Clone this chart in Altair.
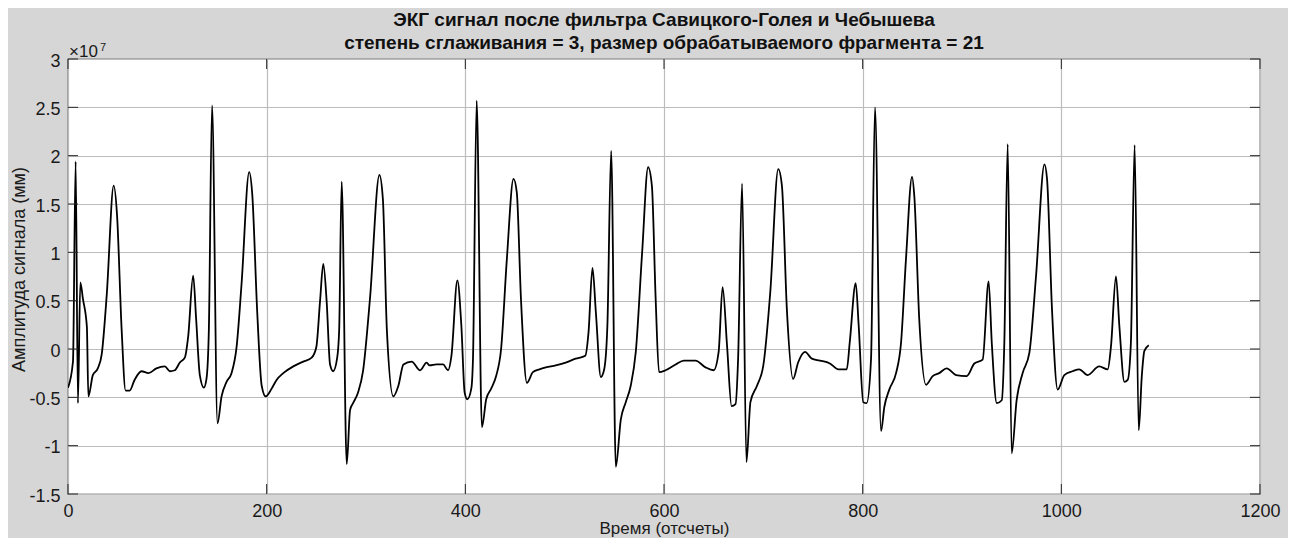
import altair as alt
import pandas as pd

# Sample index (отсчеты) and amplitude (in units of 1e7)
t_part1 = [0, 5, 7.7, 10, 12.4, 15, 19, 20.5, 25, 30,
           34, 39, 46, 49.4, 54, 58, 62, 67, 74, 81,
           89, 97.5, 102.5, 107.5, 112.6, 117.6, 121, 126, 129, 132.7,
           136.8, 139.4, 141.8, 145, 150.5, 154.6, 159.6, 164.6, 169.7, 174.7,
           182.4, 185.5, 190.5, 195, 199, 205, 210, 216.7, 226.8, 236.9,
           245.3, 250, 253.7, 257, 260.4, 263.8, 267, 271, 273, 275.5,
           280.6, 284, 287, 292, 297, 304, 313.5, 317, 321, 327.5,
           332.6, 337.7, 346, 354.5, 361]
amp_part1 = [-0.4, -0.13, 1.94, -0.56, 0.69, 0.52, 0.23, -0.49, -0.27, -0.2,
             -0.05, 0.56, 1.69, 1.38, 0.2, -0.43, -0.43, -0.32, -0.23, -0.25,
             -0.2, -0.18, -0.23, -0.22, -0.14, -0.09, 0.13, 0.76, 0.31, -0.27,
             -0.4, -0.31, 0.2, 2.52, -0.77, -0.49, -0.34, -0.25, 0.02, 0.67,
             1.83, 1.6, 0.38, -0.38, -0.49, -0.41, -0.32, -0.25, -0.18, -0.13,
             -0.09, 0.02, 0.49, 0.88, 0.49, -0.16, -0.23, -0.09, 0.2, 1.73,
             -1.19, -0.63, -0.56, -0.45, -0.23, 0.52, 1.8, 1.55, 0.2, -0.49,
             -0.38, -0.16, -0.13, -0.22, -0.14]

t_part2 = [364, 371, 377.6, 382.6, 386, 392, 396, 399.3, 402, 406,
           407.7, 411.4, 416.7, 421, 426, 431, 436, 441.8, 448.5, 451.8,
           456, 462, 468, 474.6, 481, 491, 501, 511, 520.7, 524,
           528, 531.4, 536.4, 539.8, 543, 546.8, 551.5, 556.5, 561.5, 566.5,
           571.6, 578, 584, 587.8, 591.6, 595, 601.6, 611.7, 620, 631.7,
           641.8, 650, 655, 659, 663.5, 668, 672, 674.6, 678.6, 683,
           687, 693.6, 700, 707, 715, 718.7, 723.7, 730, 735, 742,
           748.8, 757, 767, 775.6, 784, 787, 793, 796, 800.6]
amp_part2 = [-0.17, -0.16, -0.16, -0.22, -0.07, 0.71, 0.24, -0.45, -0.52, -0.41,
             -0.1, 2.57, -0.81, -0.52, -0.41, -0.28, 0.0, 0.93, 1.76, 1.62,
             0.52, -0.35, -0.24, -0.21, -0.19, -0.17, -0.14, -0.1, -0.07, 0.17,
             0.84, 0.38, -0.29, -0.21, 0.24, 2.05, -1.22, -0.73, -0.55, -0.38,
             -0.03, 1.0, 1.88, 1.69, 0.52, -0.24, -0.22, -0.16, -0.12, -0.12,
             -0.19, -0.22, -0.03, 0.64, 0.03, -0.59, -0.57, -0.1, 1.71, -1.17,
             -0.55, -0.38, -0.17, 0.59, 1.86, 1.69, 0.41, -0.31, -0.14, -0.03,
             -0.1, -0.12, -0.15, -0.21, -0.21, 0.07, 0.68, 0.24, -0.55]

t_part3 = [804, 808.4, 812.4, 818.5, 821.8, 826.8, 833.6, 838.6, 843.6, 849.7,
           852, 857, 863.8, 870.5, 877, 884.6, 894, 904.7, 912.4, 920.8,
           926.8, 930, 935, 940, 942.6, 946, 950, 955, 961, 967.8,
           974.5, 983, 985.6, 990.6, 996.3, 1003, 1011.4, 1018, 1026.5, 1038,
           1046.7, 1050, 1055, 1058.4, 1063.5, 1066.8, 1070, 1073.8, 1077.9, 1081,
           1083.6, 1088]
amp_part3 = [-0.56, -0.11, 2.5, -0.85, -0.6, -0.42, -0.25, 0.06, 0.93, 1.78,
             1.58, 0.3, -0.37, -0.28, -0.25, -0.2, -0.27, -0.28, -0.15, -0.11,
             0.7, 0.06, -0.56, -0.53, 0.06, 2.12, -1.08, -0.53, -0.25, -0.04,
             0.75, 1.91, 1.76, 0.41, -0.42, -0.27, -0.23, -0.21, -0.27, -0.18,
             -0.21, 0.03, 0.75, 0.24, -0.34, -0.32, 0.06, 2.11, -0.84, -0.28,
             -0.02, 0.04]

x_ticks = [0, 200, 400, 600, 800, 1000, 1200]
y_ticks = [-1.5, -1, -0.5, 0, 0.5, 1, 1.5, 2, 2.5, 3]

title_lines = ["ЭКГ сигнал после фильтра Савицкого-Голея и Чебышева",
               "степень сглаживания = 3, размер обрабатываемого фрагмента = 21"]
x_title = "Время (отсчеты)"
y_title = "Амплитуда сигнала (мм)"
exponent_base = "×10"
exponent_power = "7"

rows = []
for ts, amps in ((t_part1, amp_part1), (t_part2, amp_part2), (t_part3, amp_part3)):
    for t, a in zip(ts, amps, strict=True):
        rows.append({"t": t, "amp": a})
df = pd.DataFrame(rows)

FONT = "Liberation Sans"
INK = "#1a1a1a"
W, H = 1192, 435

xscale = alt.Scale(domain=[0, 1200], nice=False, zero=False)
yscale = alt.Scale(domain=[-1.5, 3], nice=False, zero=False)

line = alt.Chart(df).mark_line(color="black", strokeWidth=1.8,
                               interpolate="monotone", clip=True).encode(
    x=alt.X("t:Q", scale=xscale,
            axis=alt.Axis(values=x_ticks, title=x_title, format="d",
                          labelFlush=False,
                          labelPadding=17, labelBaseline="middle",
                          titleY=34, titleBaseline="middle", titleFontSize=17,
                          titleAlign="center")),
    y=alt.Y("amp:Q", scale=yscale,
            axis=alt.Axis(values=y_ticks, title=y_title, labelFlush=False,
                          labelExpr="datum.value < 0 ? '-' + format(-datum.value, '~g') : format(datum.value, '~g')",
                          labelPadding=8, labelOffset=2, labelBaseline="middle",
                          titleX=-49, titleY=210, titleAngle=270,
                          titleAlign="center", titleBaseline="middle")),
)

xt = pd.DataFrame({"v": x_ticks})
yt = pd.DataFrame({"v": y_ticks})
TK = "#262626"
tick_bottom = alt.Chart(xt).mark_rule(color=TK, strokeWidth=1).encode(
    x=alt.X("v:Q", scale=xscale), y=alt.value(H), y2=alt.value(H - 10))
tick_top = alt.Chart(xt).mark_rule(color=TK, strokeWidth=1).encode(
    x=alt.X("v:Q", scale=xscale), y=alt.value(0), y2=alt.value(10))
tick_left = alt.Chart(yt).mark_rule(color=TK, strokeWidth=1).encode(
    y=alt.Y("v:Q", scale=yscale), x=alt.value(0), x2=alt.value(10))
tick_right = alt.Chart(yt).mark_rule(color=TK, strokeWidth=1).encode(
    y=alt.Y("v:Q", scale=yscale), x=alt.value(W), x2=alt.value(W - 10))

exp_base = alt.Chart(pd.DataFrame({"s": [exponent_base]})).mark_text(
    align="left", baseline="alphabetic", font=FONT, fontSize=17, color=INK
).encode(x=alt.value(1), y=alt.value(-2), text="s:N")

exp_pow = alt.Chart(pd.DataFrame({"s": [exponent_power]})).mark_text(
    align="left", baseline="alphabetic", font=FONT, fontSize=11, color=INK
).encode(x=alt.value(32), y=alt.value(-8), text="s:N")

title1 = alt.Chart(pd.DataFrame({"s": [title_lines[0]]})).mark_text(
    align="center", baseline="middle", font=FONT, fontSize=19,
    fontWeight="bold", color="#111111"
).encode(x=alt.value(W / 2), y=alt.value(-39), text="s:N")

title2 = alt.Chart(pd.DataFrame({"s": [title_lines[1]]})).mark_text(
    align="center", baseline="middle", font=FONT, fontSize=19,
    fontWeight="bold", color="#111111"
).encode(x=alt.value(W / 2), y=alt.value(-16), text="s:N")

chart = alt.layer(
    line, tick_bottom, tick_top, tick_left, tick_right,
    exp_base, exp_pow, title1, title2
).properties(
    width=W,
    height=H,
    autosize=alt.AutoSizeParams(type="none"),
    padding={"left": 60, "top": 51, "right": 28, "bottom": 44},
    background="#d6d6d6",
).configure_view(
    fill="white", stroke="#262626", strokeWidth=1.2
).configure_axis(
    labelFont=FONT, labelFontSize=18, labelColor=INK,
    titleFont=FONT, titleFontSize=18, titleColor=INK, titleFontWeight="normal",
    grid=True, gridColor="#bcbcbc", gridWidth=1.2,
    domain=False, ticks=False,
)

chart.save("out.html", embed_options={"renderer": "svg", "actions": False})
